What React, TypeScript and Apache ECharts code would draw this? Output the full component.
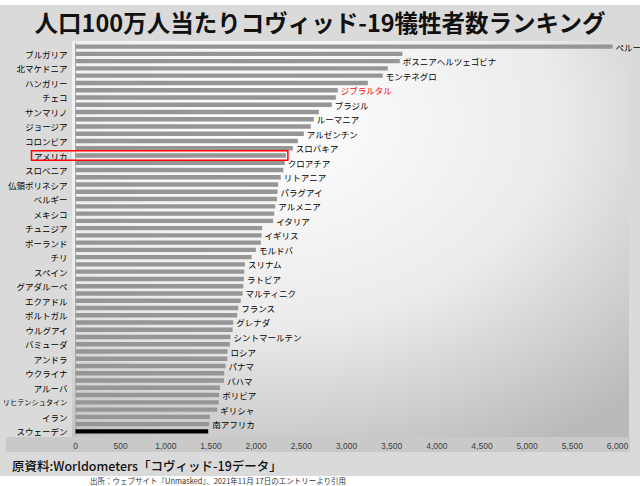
import React, { useEffect, useRef } from "react";
import * as echarts from "echarts";

const titleText = "人口100万人当たりコヴィッド-19犠牲者数ランキング";
const sourceText = "原資料:Worldometers「コヴィッド-19データ」";
const citeText = "出所：ウェブサイト『Unmasked』、2021年11月 17日のエントリーより引用";

const countries = [
  "ペルー", "ブルガリア", "ボスニアヘルツェゴビナ", "北マケドニア", "モンテネグロ", "ハンガリー",
  "ジブラルタル", "チェコ", "ブラジル", "サンマリノ", "ルーマニア", "ジョージア",
  "アルゼンチン", "コロンビア", "スロバキア", "アメリカ", "クロアチア", "スロベニア",
  "リトアニア", "仏領ポリネシア", "パラグアイ", "ベルギー", "アルメニア", "メキシコ",
  "イタリア", "チュニジア", "イギリス", "ポーランド", "モルドバ", "チリ",
  "スリナム", "スペイン", "ラトビア", "グアダルーペ", "マルティニク", "エクアドル",
  "フランス", "ポルトガル", "グレナダ", "ウルグアイ", "シントマールテン", "バミューダ",
  "ロシア", "アンドラ", "パナマ", "ウクライナ", "バハマ", "アルーバ",
  "ボリビア", "リヒテンシュタイン", "ギリシャ", "イラン", "南アフリカ", "スウェーデン",
];

const deathsPerMillion = [
  5946, 3619, 3590, 3457, 3401, 3236,
  2904, 2882, 2837, 2694, 2638, 2605,
  2528, 2461, 2406, 2329, 2317, 2300,
  2273, 2244, 2236, 2230, 2211, 2200,
  2188, 2066, 2060, 2052, 1997, 1949,
  1875, 1868, 1864, 1857, 1849, 1829,
  1801, 1790, 1746, 1739, 1716, 1709,
  1683, 1680, 1661, 1646, 1643, 1599,
  1591, 1585, 1569, 1488, 1480, 1469,
];

const xMin = 0;
const xMax = 6000;
const xInterval = 500;

const blackBarCountry = "スウェーデン";
const redLabelCountry = "ジブラルタル";
const boxedCountry = "アメリカ";

const JP = '"Noto Sans CJK JP", "Noto Sans", sans-serif';

export default function App() {
  const ref = useRef<HTMLDivElement>(null);

  useEffect(() => {
    document.body.style.margin = "0";
    const chart = echarts.init(ref.current!, null, { renderer: "svg" });

    const data = countries.map((name, i) => ({
      value: deathsPerMillion[i],
      itemStyle: { color: name === blackBarCountry ? "#000000" : "#969696" },
      label: {
        show: i % 2 === 0,
        color: name === redLabelCountry ? "#ff0000" : "#000000",
      },
    }));

    const baseGraphics: any[] = [
      { id: "bg", type: "rect", z: -20, silent: true,
        shape: { x: 0, y: 5, width: 640, height: 471 }, style: { fill: "#dadada" } },
      { id: "plotbg", type: "rect", z: -15, silent: true,
        shape: { x: 72, y: 41, width: 557, height: 396 },
        style: {
          fill: new echarts.graphic.RadialGradient(0.35, 0.2, 0.95, [
            { offset: 0, color: "#ffffff" },
            { offset: 0.55, color: "#ebebeb" },
            { offset: 1, color: "#bababa" },
          ]),
        } },
      { id: "axisband", type: "rect", z: -15, silent: true,
        shape: { x: 6, y: 437, width: 624, height: 15 }, style: { fill: "#c9c9c9" } },
      { id: "title", type: "text", z: 10, x: 320, y: 22,
        style: { text: titleText, fill: "#111111", font: `bold 23.5px ${JP}`,
          textAlign: "center", textVerticalAlign: "middle" } },
      { id: "src", type: "text", z: 10, x: 12, y: 465,
        style: { text: sourceText, fill: "#111111", font: `500 12.5px ${JP}`,
          textAlign: "left", textVerticalAlign: "middle" } },
      { id: "cite", type: "text", z: 10, x: 90, y: 480,
        style: { text: citeText, fill: "#333333", font: `7.5px ${JP}`,
          textAlign: "left", textVerticalAlign: "middle" } },
    ];

    chart.setOption({
      animation: false,
      backgroundColor: "#ffffff",
      grid: {
        left: 75.5, top: 43, width: 542, height: 392,
        containLabel: false, outerBoundsMode: "none",
      },
      xAxis: {
        type: "value",
        min: xMin,
        max: xMax,
        interval: xInterval,
        axisLine: { show: false },
        axisTick: { show: false },
        splitLine: { show: false },
        axisLabel: {
          margin: 6,
          fontSize: 8.5,
          color: "#404040",
          fontFamily: '"Liberation Sans", "Noto Sans", sans-serif',
          formatter: (v: number) => v.toLocaleString("en-US"),
        },
      },
      yAxis: {
        type: "category",
        inverse: true,
        data: countries,
        axisLine: { show: true, lineStyle: { color: "#b0b0b0", width: 1 } },
        axisTick: { show: false },
        splitLine: { show: false },
        axisLabel: {
          interval: (index: number) => index % 2 === 1,
          margin: 8,
          fontSize: 8.5,
          color: "#000000",
          fontFamily: JP,
          formatter: (v: string) => (v.length > 7 ? `{small|${v}}` : v),
          rich: {
            small: { fontSize: 7.2, fontFamily: JP, color: "#000000" },
          },
        },
      },
      series: [
        {
          type: "bar",
          data,
          barWidth: 4.4,
          label: {
            position: "right",
            distance: 3,
            fontSize: 8.5,
            fontFamily: JP,
            formatter: (p: any) => p.name,
          },
        },
      ],
      graphic: baseGraphics,
    });

    const idx = countries.indexOf(boxedCountry);
    const yc = chart.convertToPixel({ yAxisIndex: 0 }, boxedCountry) as number;
    const xe = chart.convertToPixel({ xAxisIndex: 0 }, deathsPerMillion[idx]) as number;
    chart.setOption({
      graphic: [
        ...baseGraphics,
        { id: "redbox", type: "rect", z: 20, silent: true,
          shape: { x: 31.5, y: yc - 4.8, width: xe + 2 - 31.5, height: 9.6 },
          style: { fill: "none", stroke: "#ff0000", lineWidth: 1.5 } },
      ],
    });

    return () => chart.dispose();
  }, []);

  return (
    <div
      ref={ref}
      style={{ position: "absolute", left: 0, top: 0, width: 640, height: 486 }}
    />
  );
}
